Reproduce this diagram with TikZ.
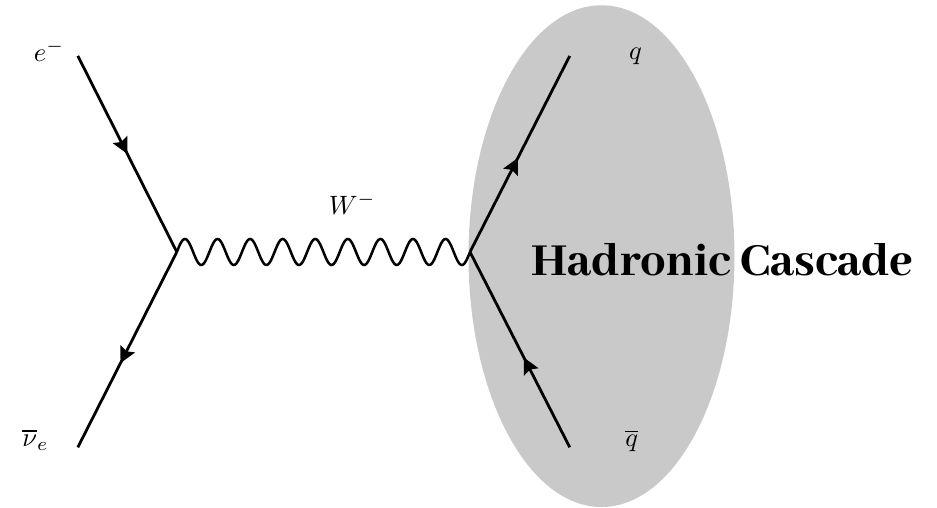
\documentclass[tikz,border=0pt]{standalone}
\usepackage{fontspec}
\usetikzlibrary{shapes.geometric,arrows.meta,decorations.markings}
\newfontfamily\titlefont{Abhaya Libre ExtraBold}
\tikzset{
	fermion/.style={line width=1.05pt, postaction={decorate},
		decoration={markings, mark=at position #1 with {\arrow{Stealth[length=6pt,width=6pt,inset=1pt]}}}},
	fermion/.default=0.5,
	boson/.style={line width=0.95pt},
	blob/.style={ellipse, fill=black!21, inner sep=0pt, minimum width=3.52cm, minimum height=6.64cm},
}
\begin{document}
\begin{tikzpicture}
\useasboundingbox (0,0) rectangle (12.4,6.71);

\node[blob] (cascade) at (7.96,3.32) {};

% Vertices and ends
\coordinate (v1) at (2.34,3.375);
\coordinate (v2) at (6.22,3.375);
\coordinate (a) at (1.03,5.97);
\coordinate (b) at (1.03,0.79);
\coordinate (c) at (7.54,5.97);
\coordinate (d) at (7.54,0.79);

% Lines
	\draw[fermion] (a) -- (v1);
	\draw[fermion=0.57] (v1) -- (b);
	\draw[fermion=0.48] (v2) -- (c);
	\draw[fermion=0.46] (d) -- (v2);
	\draw[boson, shift={(v1)}] plot[domain=0:3.88, samples=300] (\x,{0.172*sin(835.05*\x)});

% Labels
\node (elec) at (0.65,6.04) {$e^-$};
\node (nu) at (0.47,0.89) {$\overline{\nu}_e$};
\node (wlab) at (4.66,4.01) {$W^-$};
\node (quark) at (8.41,5.96) {$q$};
\node (aquark) at (8.36,0.88) {$\overline{q}$};
\node (title) at (9.56,3.27) {\fontsize{19}{23}\titlefont Hadronic Cascade};
\end{tikzpicture}
\end{document}
